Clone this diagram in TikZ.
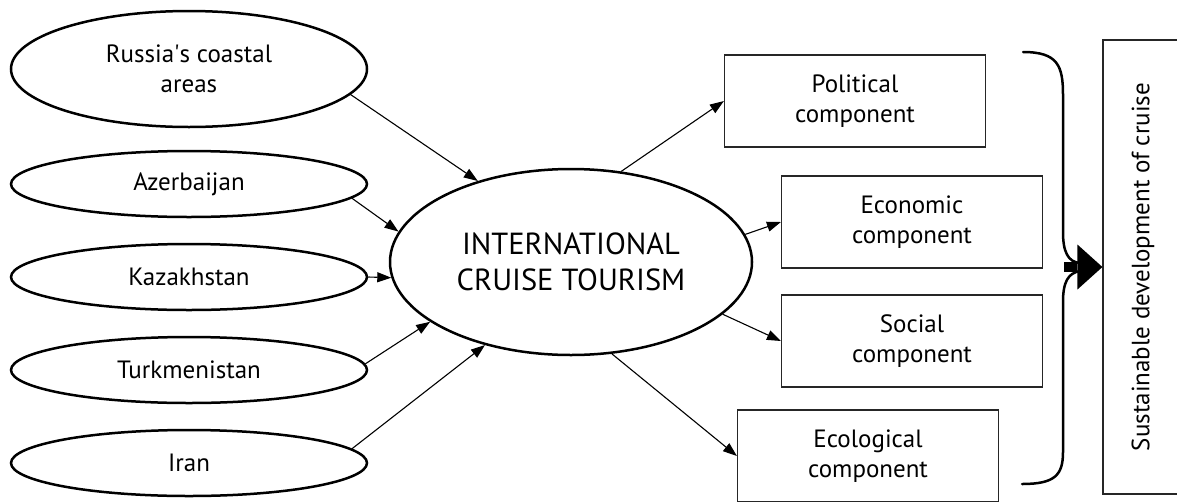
\documentclass[tikz,border=0pt]{standalone}
\usepackage{fontspec}
\setmainfont{PT Sans}
\usetikzlibrary{shapes.geometric, arrows.meta, positioning}
\tikzset{
    country/.style={ellipse, draw=black, line width=2.5pt, minimum width=356pt, minimum height=66pt, inner sep=0pt, align=center, font=\fontsize{25}{30}\selectfont},
    hub/.style={ellipse, draw=black, line width=2.5pt, minimum width=362pt, minimum height=186pt, inner sep=0pt, align=center, font=\fontsize{30.5}{36}\selectfont},
    component/.style={rectangle, draw=black!85, line width=1.2pt, minimum width=261pt, minimum height=92pt, inner sep=0pt, align=center, font=\fontsize{25}{30}\selectfont},
    goal/.style={rectangle, draw=black!85, line width=1.2pt, minimum width=80pt, minimum height=454pt, inner sep=0pt, font=\fontsize{25}{30}\selectfont},
    arrow/.style={line width=1.1pt, -{Triangle[length=14pt, width=10pt]}},
    bigarrow/.style={line width=10pt, -{Triangle[length=25pt, width=45pt, line width=0pt]}},
    brace/.style={line width=2.5pt, line cap=round}
}

\begin{document}
\begin{tikzpicture}[x=1pt, y=-1pt, node distance=93pt]
\useasboundingbox (0,0) rectangle (1177,501);
\clip (0,0) rectangle (1177,501);

% Countries
\node (russia) [country, minimum height=116pt] at (189,69) {Russia\textquotesingle s coastal\\areas};
\node (azer) [country, below of=russia, yshift=-22pt] {Azerbaijan};
\node (kaz) [country, below of=azer] {Kazakhstan};
\node (turk) [country, below of=kaz] {Turkmenistan};
\node (iran) [country, below of=turk] {Iran};

% Centre
\node (hub) [hub] at (571,262) {INTERNATIONAL\\CRUISE TOURISM};

% Components
\node (pol) [component] at (855,101) {Political\\component};
\node (econ) [component, below of=pol, xshift=57pt, yshift=-28pt] {Economic\\component};
\node (soc) [component, below of=econ, yshift=-26pt] {Social\\component};
\node (ecol) [component, below of=soc, xshift=-44pt, yshift=-22pt] {Ecological\\component};

% Goal
\node (sus) [goal] at (1143,267) {\rotatebox{90}{Sustainable development of cruise}};

% Arrows
\draw [arrow] (russia.-9) -- (hub.139);
\draw [arrow] (azer.-5) -- (hub.170);
\draw [arrow] (kaz.east) -- (hub.185);
\draw [arrow] (turk.2) -- (hub.203);
\draw [arrow] (iran.5) -- (hub.224);
\draw [arrow] (hub.61) -- (pol.west);
\draw [arrow] (hub.9) -- (econ.west);
\draw [arrow] (hub.-19) -- (soc.west);
\draw [arrow] (hub.-66) -- (ecol.west);

% Brace and big arrow
\draw [brace] (1023,52) .. controls (1058,52) and (1063,66) .. (1063,95)
    -- (1063,232) .. controls (1063,252) and (1068,262) .. (1080,263);
\draw [brace] (1080,271) .. controls (1068,273) and (1063,282) .. (1063,302)
    -- (1063,452) .. controls (1063,475) and (1055,484) .. (1022,484);
\coordinate (tip) at (1064,267);
\draw [bigarrow] (tip) -- (sus.west);

\end{tikzpicture}
\end{document}
